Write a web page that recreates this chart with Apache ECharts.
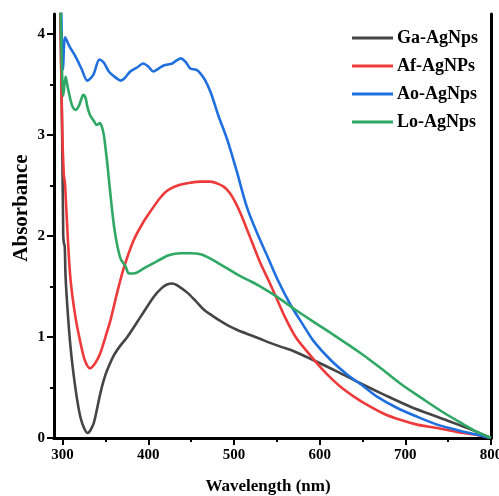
<!DOCTYPE html>
<html><head><meta charset="utf-8">
<script src="https://cdn.jsdelivr.net/npm/echarts@6/dist/echarts.min.js"></script>
<style>html,body{margin:0;padding:0;background:#fff}#c{width:499px;height:496px}</style>
</head><body><div id="c"></div>
<script>
const seriesNames = ['Ga-AgNps', 'Af-AgNPs', 'Ao-AgNps', 'Lo-AgNps'];
const xTickLabels = [300, 400, 500, 600, 700, 800];
const xMinorTicks = [350, 450, 550, 650, 750];
const yTickLabels = [0, 1, 2, 3, 4];
const yMinorTicks = [0.5, 1.5, 2.5, 3.5];

const gaData = [[297,4.5],[299.5,3.0],[300.8,2.0],[301.5,1.93],[302.5,1.9],[303.5,1.6],[306,1.25],[309.3,0.9],[313,0.62],[317,0.38],[321,0.2],[325,0.1],[329,0.05],[332,0.07],[336.5,0.15],[340,0.28],[344,0.44],[348,0.57],[352,0.67],[360,0.82],[367,0.91],[375.5,1.0],[391,1.2],[406.5,1.4],[415,1.48],[422,1.52],[428,1.53],[436,1.5],[445.5,1.44],[455,1.36],[465,1.27],[475,1.21],[484,1.16],[494,1.11],[504,1.07],[519,1.02],[531,0.98],[543,0.94],[556,0.9],[570,0.86],[593,0.77],[620,0.66],[648,0.54],[675,0.43],[706,0.31],[737,0.21],[772,0.1],[800,0]];
const afData = [[297,4.5],[299.6,3.06],[301.5,2.6],[302.3,2.56],[303,2.5],[306,2.0],[309.3,1.57],[315,1.2],[321,0.94],[326,0.77],[332,0.69],[338,0.74],[344,0.84],[350,1.0],[356,1.17],[364,1.45],[372,1.7],[383,1.96],[393,2.12],[403,2.25],[414,2.38],[424,2.46],[438,2.51],[450,2.53],[461,2.54],[473,2.54],[481,2.52],[488,2.49],[495,2.43],[502,2.33],[509,2.2],[515.5,2.06],[523,1.9],[531,1.73],[541,1.55],[550.5,1.37],[560,1.19],[572,1.0],[584,0.87],[597,0.74],[610,0.62],[624,0.51],[640,0.41],[655,0.33],[675,0.24],[694,0.18],[715,0.13],[737,0.1],[760,0.06],[784,0.03],[800,0]];
const aoData = [[298,4.5],[300.5,3.65],[303,3.97],[308,3.88],[315,3.78],[322,3.66],[329,3.54],[336,3.6],[343,3.75],[348,3.72],[354,3.63],[362,3.57],[368,3.54],[373,3.57],[379,3.63],[387,3.67],[394,3.71],[400,3.68],[406,3.63],[412,3.66],[418,3.69],[428,3.71],[433,3.74],[438,3.76],[444,3.72],[449,3.66],[455,3.65],[459,3.63],[466,3.55],[473,3.42],[482,3.19],[492,2.96],[503,2.65],[515,2.29],[527,2.03],[539,1.8],[552,1.55],[566,1.32],[580,1.13],[593,0.96],[612,0.78],[632,0.63],[650,0.52],[667,0.41],[690,0.3],[714,0.21],[738,0.13],[760,0.08],[780,0.04],[800,0]];
const loData = [[297,4.5],[299.5,3.6],[300.8,3.39],[303.5,3.58],[305.5,3.5],[307.4,3.42],[311.3,3.29],[315.2,3.25],[319,3.29],[322,3.36],[324.2,3.4],[326.8,3.37],[329,3.28],[332,3.2],[336.5,3.14],[340,3.1],[343.5,3.12],[346,3.08],[348.2,3.0],[350,2.88],[352.2,2.72],[356,2.4],[360,2.1],[364,1.9],[368,1.77],[373.5,1.7],[377.4,1.63],[382,1.63],[387,1.64],[393,1.67],[399,1.7],[410,1.75],[424,1.81],[438,1.83],[450,1.83],[461,1.82],[472,1.78],[484,1.72],[496,1.66],[508,1.6],[520,1.55],[531,1.5],[550,1.4],[570,1.28],[593,1.15],[613,1.04],[648,0.84],[670,0.7],[694,0.54],[720,0.39],[745,0.25],[765,0.15],[784,0.06],[800,0]];

const colors = ['#454545', '#EE3A3A', '#1F6FDF', '#2FA865'];
const allData = [gaData, afData, aoData, loData];

const FONT = '"Liberation Serif", "Times New Roman", serif';
const chart = echarts.init(document.getElementById('c'), null, {renderer: 'canvas'});
const axisLine = {show: true, lineStyle: {color: '#000', width: 3}};
chart.setOption({
  backgroundColor: '#fff',
  animation: false,
  grid: {left: 54, top: 14, right: 8, bottom: 58, containLabel: false, outerBoundsMode: 'none'},
  legend: {
    data: seriesNames, orient: 'vertical', left: 347, top: 24,
    icon: 'rect', itemWidth: 41, itemHeight: 3, itemGap: 10,
    textStyle: {fontFamily: FONT, fontWeight: 'bold', fontSize: 18, color: '#000', lineHeight: 18, padding: [0,0,0,-1]}
  },
  xAxis: [
    {type: 'value', min: 290, max: 800, position: 'bottom',
     axisLine: axisLine, splitLine: {show: false},
     axisTick: {show: true, inside: false, length: 7, lineStyle: {width: 2, color: '#000'}, customValues: xTickLabels},
     axisLabel: {customValues: xTickLabels, margin: 10, fontFamily: FONT, fontWeight: 'bold', fontSize: 15, color: '#000'}},
    {type: 'value', min: 290, max: 800, position: 'bottom', gridIndex: 0,
     axisLine: {show: false}, splitLine: {show: false},
     axisTick: {show: true, length: 4, lineStyle: {width: 2, color: '#000'}, customValues: xMinorTicks},
     axisLabel: {show: false}},
    {type: 'value', min: 290, max: 800, position: 'top',
     axisLine: axisLine, axisTick: {show: false}, axisLabel: {show: false}, splitLine: {show: false}}
  ],
  yAxis: [
    {type: 'value', min: 0, max: 4.2, position: 'left',
     axisLine: axisLine, splitLine: {show: false},
     axisTick: {show: true, length: 7, lineStyle: {width: 2, color: '#000'}, customValues: yTickLabels},
     axisLabel: {customValues: yTickLabels, margin: 9, fontFamily: FONT, fontWeight: 'bold', fontSize: 15, color: '#000'}},
    {type: 'value', min: 0, max: 4.2, position: 'left',
     axisLine: {show: false}, splitLine: {show: false},
     axisTick: {show: true, length: 4, lineStyle: {width: 2, color: '#000'}, customValues: yMinorTicks},
     axisLabel: {show: false}},
    {type: 'value', min: 0, max: 4.2, position: 'right',
     axisLine: axisLine, axisTick: {show: false}, axisLabel: {show: false}, splitLine: {show: false}}
  ],
  graphic: [
    {type: 'text', x: 22, y: 208, rotation: Math.PI / 2,
     style: {text: 'Absorbance', fontFamily: FONT, fontWeight: 'bold', fontSize: 21, fill: '#000', align: 'center', verticalAlign: 'middle'}},
    {type: 'text', x: 268, y: 478,
     style: {text: 'Wavelength (nm)', fontFamily: FONT, fontWeight: 'bold', fontSize: 17, fill: '#000', align: 'center'}}
  ],
  series: seriesNames.map((n, i) => ({
    name: n, type: 'line', data: allData[i], showSymbol: false, symbol: 'none',
    smooth: 0.3, clip: true, xAxisIndex: 0, yAxisIndex: 0,
    lineStyle: {color: colors[i], width: 2.6}, itemStyle: {color: colors[i]}
  }))
});
</script></body></html>
